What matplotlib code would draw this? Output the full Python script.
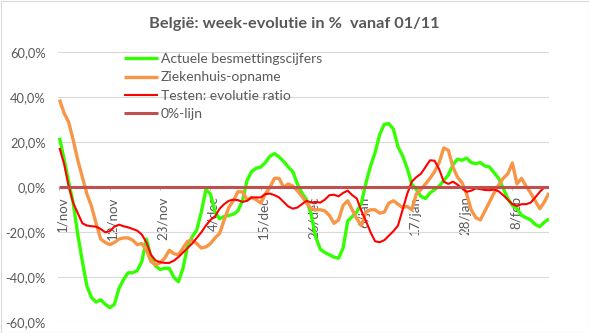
import numpy as np
import matplotlib
matplotlib.use("Agg")
import matplotlib.pyplot as plt
from matplotlib.ticker import FuncFormatter
from matplotlib.transforms import ScaledTranslation
from matplotlib.patches import Rectangle

# ---------------- data (percent, one value per day from 1 Nov) ----------------
tick_labels = ['1/nov', '12/nov', '23/nov', '4/dec', '15/dec', '26/dec',
               '6/jan', '17/jan', '28/jan', '8/feb']

besmettingen = [22, 12.5, 2.5, -7, -21, -33, -44, -49, -51, -50,
                -52, -53.5, -52, -45, -41, -38, -38, -37, -33, -23,
                -31, -35, -36.5, -36, -36, -40, -42, -36, -26, -22,
                -19, -11, -1, -3, -11, -14, -13, -12.5, -12, -10.5,
                -6, 3, 7, 8.5, 9, 11, 13.8, 15, 13.5, 11.5,
                9, 7, 1.5, -2.5, -5.5, -12, -22, -27.5, -29, -30,
                -31, -31.5, -27, -15, -13, -11, -7, 2, 9.5, 15.5,
                23.5, 28, 28.3, 25.8, 18, 14, 8.5, 1.5, -1, -4,
                -5, -2.5, -1, 0.5, 3, 5.5, 10, 12.5, 12, 13,
                11, 10.5, 11, 9.5, 9, 6.5, 4, -0.5, -5, -8,
                -9.5, -12.5, -13.5, -14.5, -16.5, -17.5, -15.5, -14]

ziekenhuis = [39, 33, 29, 21, 12, 4.5, -3, -8.5, -16, -23,
              -24.5, -25.5, -24.5, -23, -22.5, -22.5, -23.5, -25.5, -25, -28,
              -33, -34.5, -33.5, -31.5, -28, -29.5, -30, -27, -24, -23.5,
              -25, -27, -26.5, -25, -22.5, -20.5, -14.5, -9, -6, -2,
              -2, -5.5, -4.5, -5.5, -7, -3, 0, 4, 4, 0,
              1.5, 0.5, -1.5, -4, -7, -9.5, -10, -10, -10.5, -12.5,
              -16, -14.5, -8, -6, -10, -14, -17, -11, -10, -10,
              -11.5, -11, -7, -6, -7.5, -9, -8.5, -10, -3, -1,
              1.5, 4, 7, 11, 17.5, 16.5, 9, 4.5, 2, -3,
              -10, -13.5, -14.5, -10.5, -6.5, -2.5, 1, 4, 6, 10.8,
              1.5, 4, 0.5, -2.5, -6, -9.5, -6.5, -2.5]

testen_ratio = [17.5, 10.5, 0.5, -7, -11.5, -16, -17, -17.3, -17.5, -18.5,
                -20, -19.5, -17.5, -16.6, -17.3, -17.8, -18.5, -19.3, -21, -24.5,
                -30, -32.5, -33.3, -33.6, -33.6, -32.6, -31, -29, -27, -25,
                -22.5, -20, -17, -14.5, -12.9, -9.5, -7.5, -6, -5.5, -5.7,
                -6.5, -6, -4.5, -4.5, -4.5, -3, -2.8, -3.5, -4.5, -6.5,
                -8.5, -9.5, -9, -7.5, -6, -6.8, -6.5, -6.8, -5.5, -3.5,
                -3.3, -4, -2.5, -1.5, -3.5, -5, -10.5, -15, -20, -24,
                -24.4, -23.5, -21.5, -19.5, -17, -10, -3, 2.5, 4.5, 6,
                9, 12, 11.8, 8, 2.5, 1.5, 2.5, 1.2, -0.5, -2,
                -1.5, -0.5, -0.8, -1.2, -1.3, -1, -1.8, -3.5, -5.5, -7.5,
                -8.3, -7.5, -7.5, -6.8, -4.5, -2, 0]

nul_lijn = [0] * 108

series_names = ['Actuele besmettingscijfers', 'Ziekenhuis-opname',
                'Testen: evolutie ratio', '0%-lijn']
title = 'België: week-evolutie in %  vanaf 01/11'

# ---------------- styling ----------------
FONT = ['Lato', 'DejaVu Sans']
TXT = '#595959'
plt.rcParams['font.family'] = FONT

W, H = 589, 333
fig = plt.figure(figsize=(W / 100, H / 100), dpi=100)
fig.patch.set_facecolor('white')

left, right, top, bottom = 58.3, 549.3, 52.3, 322.3
ax = fig.add_axes([left / W, 1 - bottom / H, (right - left) / W, (bottom - top) / H])

series = [
    (besmettingen, '#33FF00', 2.4),
    (ziekenhuis, '#F79646', 2.4),
    (testen_ratio, '#FF0000', 1.5),
    (nul_lijn, '#C0504D', 2.2),
]
for (vals, col, lw), name in zip(series, series_names):
    ax.plot(np.arange(len(vals)), vals, color=col, lw=lw, label=name,
            solid_joinstyle='round', solid_capstyle='butt')

ax.set_ylim(-60, 60)
ax.set_xlim(-0.26, 107.07)
ax.set_yticks(np.arange(-60, 61, 20))
ax.yaxis.set_major_formatter(FuncFormatter(lambda v, p: f"{v:.1f}%".replace('.', ',')))
ax.yaxis.grid(True, color='#D9D9D9', lw=0.8)
ax.set_axisbelow(True)

for s in ['left', 'right', 'top']:
    ax.spines[s].set_visible(False)
ax.spines['bottom'].set_position(('data', 0))
ax.spines['bottom'].set_visible(False)

ax.tick_params(axis='y', length=0, pad=9, labelsize=9.3, labelcolor=TXT)
ax.tick_params(axis='x', length=2.5, width=0.8, color='#BFBFBF', direction='out',
               pad=4, labelsize=9.6, labelcolor=TXT)

ax.set_xticks(np.arange(0, 108, 11))
ax.set_xticklabels(tick_labels, rotation=90, ha='center', va='top')
off = ScaledTranslation(0.03, 0, fig.dpi_scale_trans)
for lab in ax.get_xticklabels():
    lab.set_transform(lab.get_transform() + off)

fig.text(294.4 / W, 1 - 24.3 / H, title, ha='center', va='center',
         fontsize=11.8, fontweight='bold', color=TXT)

leg = ax.legend(loc='upper left', bbox_to_anchor=(124 / W, 1 - 53.0 / H),
                bbox_transform=fig.transFigure, frameon=False, fontsize=10,
                handlelength=2.45, handletextpad=0.2, labelspacing=0.46,
                borderpad=0, borderaxespad=0)
for t in leg.get_texts():
    t.set_color(TXT)

fig.patches.append(Rectangle((0.5 / W, 0.5 / H), 1 - 1 / W, 1 - 1 / H,
                             transform=fig.transFigure, fill=False,
                             ec='#D9D9D9', lw=0.8))

fig.savefig('out.png', dpi=100)
